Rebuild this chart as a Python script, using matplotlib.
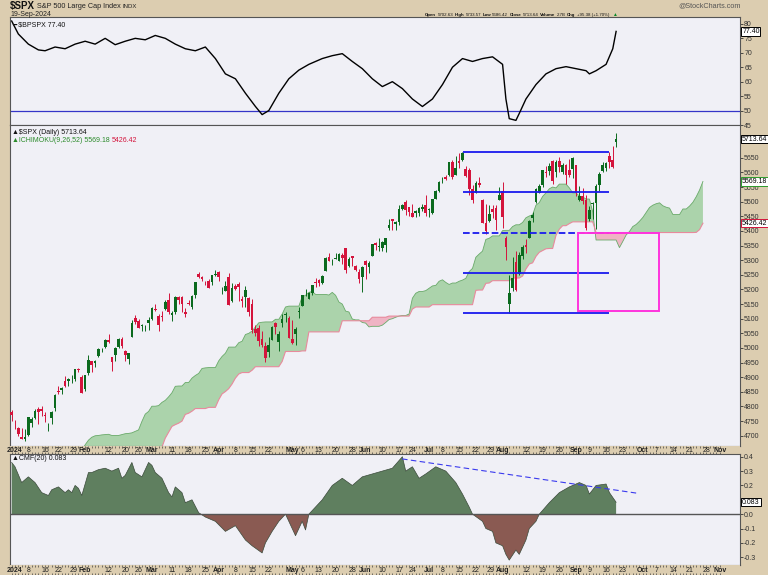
import numpy as np
import pandas as pd
import matplotlib
matplotlib.use('Agg')
import matplotlib.pyplot as plt
from matplotlib.patches import Rectangle
from matplotlib import font_manager

plt.rcParams['font.family'] = ['Liberation Sans', 'DejaVu Sans']

W, H = 768, 575
TAN = '#dccdb0'
PANEL = '#f0f0f6'
GREEN = '#0b6a1e'
RED = '#d4143c'

# narrow face for the crowded quote line, if one is installed
_names = {f.name for f in font_manager.fontManager.ttflist}
NARROW = [n for n in ('Liberation Sans Narrow', 'DejaVu Sans Condensed') if n in _names]
NARROW = NARROW + ['Liberation Sans', 'DejaVu Sans']

# trading calendar, Dec 29 2023 - Nov 1 2024
holidays = pd.to_datetime(['2024-01-01', '2024-01-15', '2024-02-19', '2024-03-29',
                           '2024-05-27', '2024-06-19', '2024-07-04', '2024-09-02'])
days = pd.bdate_range('2023-12-29', '2024-11-01')
days = days[~days.isin(holidays)]

# $SPX daily OHLC, Dec 29 2023 - Sep 19 2024
opens = [
    4782.88,  # Dec 29
    4745.20, 4725.07, 4697.42, 4690.57, 4703.70, 4741.93, 4759.94, 4792.13, 4791.18, 4772.35,
    4739.13, 4760.10, 4796.28, 4853.42, 4856.80, 4888.56, 4886.66, 4888.91, 4892.95, 4925.89,
    4899.19,  # Jan
    4861.11, 4916.06, 4957.19, 4950.16, 4973.05, 4995.16, 5004.17, 5026.83, 4967.94, 4976.44,
    5003.14, 5031.13, 4989.32, 4963.03, 5038.83, 5100.92, 5093.00, 5074.60, 5067.20, 5085.36,  # Feb
    5098.51, 5130.99, 5110.52, 5108.03, 5132.38, 5164.46, 5111.96, 5123.31, 5173.49, 5175.14,
    5123.31, 5154.77, 5139.09, 5181.69, 5253.43, 5242.48, 5219.52, 5228.85, 5226.31, 5248.03,  # Mar
    5257.97, 5204.29, 5194.37, 5244.05, 5158.95, 5211.37, 5217.03, 5167.88, 5172.95, 5171.51,
    5149.67, 5064.59, 5068.97, 5031.52, 5005.44, 4987.33, 5028.85, 5084.86, 5019.88, 5084.65,
    5114.13, 5103.78,  # Apr
    5029.03, 5049.32, 5122.78, 5142.42, 5187.20, 5168.98, 5189.03, 5225.49, 5233.08, 5221.10,
    5263.26, 5310.07, 5303.10, 5305.35, 5298.69, 5319.28, 5340.26, 5281.45, 5315.91, 5278.73,
    5259.77, 5243.21,  # May
    5297.15, 5278.24, 5314.48, 5357.80, 5343.81, 5341.22, 5353.00, 5409.13, 5441.93, 5424.08,
    5431.11, 5476.15, 5499.99, 5480.29, 5459.58, 5460.73, 5460.71, 5473.59, 5488.48,  # Jun
    5471.08, 5461.84, 5507.44, 5537.91, 5572.75, 5584.24, 5591.26, 5635.21, 5590.76, 5638.16,
    5644.09, 5610.07, 5608.56, 5543.37, 5530.36, 5565.30, 5505.84, 5428.70, 5433.67, 5476.55,
    5478.73, 5505.59,  # Jul
    5537.84, 5376.63, 5151.14, 5206.42, 5293.13, 5252.57, 5314.48, 5351.88, 5376.98, 5442.84,
    5500.34, 5530.50, 5557.23, 5602.88, 5603.09, 5637.77, 5602.99, 5639.66, 5602.89, 5624.51,
    5607.30, 5612.74,  # Aug
    5623.89, 5506.68, 5520.89, 5507.33, 5442.07, 5490.51, 5496.42, 5557.48, 5603.34, 5615.21,
    5655.51, 5641.68, 5702.63,  # Sep
]
highs = [
    4788.43,
    4754.33, 4729.29, 4726.78, 4721.49, 4764.54, 4765.47, 4790.80, 4798.50, 4802.40, 4782.34,
    4744.23, 4785.79, 4842.07, 4868.41, 4866.48, 4903.68, 4898.15, 4906.69, 4929.31, 4931.09,
    4906.75,
    4906.97, 4975.29, 4957.19, 4957.77, 4999.89, 5000.40, 5030.06, 5048.39, 4969.95, 5002.52,
    5032.72, 5038.70, 4993.71, 4983.21, 5094.39, 5111.06, 5097.66, 5080.69, 5077.37, 5104.99,
    5140.33, 5149.67, 5114.54, 5127.97, 5165.62, 5189.26, 5124.66, 5179.14, 5179.14, 5176.85,
    5136.86, 5164.20, 5180.31, 5226.19, 5261.10, 5246.09, 5229.09, 5235.16, 5249.26, 5264.85,
    5263.95, 5208.34, 5228.75, 5256.59, 5222.18, 5219.57, 5224.81, 5178.43, 5211.78, 5175.03,
    5168.43, 5079.84, 5077.96, 5056.66, 5019.02, 5038.84, 5076.12, 5089.48, 5057.75, 5114.62,
    5123.49, 5110.83,
    5096.12, 5073.21, 5139.12, 5181.00, 5200.23, 5191.95, 5215.30, 5239.66, 5237.26, 5250.37,
    5311.76, 5325.49, 5305.45, 5325.32, 5324.32, 5323.18, 5341.88, 5311.65, 5315.91, 5282.27,
    5270.26, 5280.33,
    5302.11, 5298.80, 5354.16, 5362.35, 5375.08, 5365.79, 5375.95, 5441.25, 5441.93, 5432.39,
    5488.50, 5490.38, 5505.53, 5480.50, 5490.66, 5472.88, 5483.14, 5490.81, 5523.64,
    5479.55, 5509.69, 5539.27, 5570.33, 5583.11, 5590.75, 5635.39, 5642.45, 5655.56, 5666.94,
    5669.67, 5622.49, 5614.05, 5557.50, 5570.36, 5585.34, 5508.04, 5491.59, 5488.24, 5487.74,
    5489.17, 5551.51,
    5566.16, 5383.89, 5250.89, 5312.34, 5330.64, 5328.03, 5350.72, 5371.20, 5436.50, 5463.22,
    5546.23, 5561.98, 5608.30, 5620.51, 5632.68, 5643.22, 5641.82, 5651.62, 5631.18, 5627.03,
    5646.95, 5651.37,
    5623.89, 5552.74, 5546.30, 5522.47, 5484.20, 5497.91, 5560.41, 5600.71, 5636.27, 5636.05,
    5670.81, 5689.75, 5733.57,
]
lows = [
    4751.99,
    4722.67, 4699.71, 4687.53, 4682.11, 4699.82, 4730.35, 4756.20, 4739.58, 4768.98, 4747.12,
    4714.82, 4740.57, 4785.87, 4844.05, 4844.37, 4865.94, 4869.34, 4881.47, 4887.40, 4916.27,
    4845.15,
    4853.52, 4907.99, 4918.09, 4934.88, 4969.05, 4987.09, 5000.34, 5016.83, 4920.31, 4956.45,
    4999.44, 4999.52, 4955.02, 4946.00, 5038.83, 5081.46, 5068.91, 5057.29, 5058.35, 5061.89,
    5094.16, 5127.18, 5056.82, 5092.22, 5128.21, 5117.50, 5091.14, 5114.48, 5151.88, 5123.30,
    5104.35, 5146.85, 5131.59, 5171.55, 5240.66, 5229.87, 5216.09, 5203.42, 5213.92, 5245.82,
    5229.20, 5184.05, 5194.37, 5146.06, 5157.21, 5197.35, 5160.78, 5138.70, 5138.77, 5107.94,
    5052.47, 5039.83, 5007.25, 5001.89, 4953.56, 4969.40, 5027.96, 5047.02, 4990.58, 5073.14,
    5088.65, 5035.31,
    5013.45, 5011.05, 5101.22, 5142.42, 5178.96, 5165.86, 5180.41, 5209.68, 5211.16, 5217.98,
    5263.26, 5296.19, 5283.59, 5302.40, 5297.87, 5286.01, 5256.93, 5278.39, 5280.89, 5262.70,
    5222.10, 5191.68,
    5234.32, 5257.63, 5314.48, 5335.36, 5331.33, 5331.52, 5327.25, 5402.51, 5403.75, 5403.75,
    5420.40, 5471.32, 5455.56, 5452.03, 5446.96, 5446.56, 5451.87, 5467.54, 5451.12,
    5446.53, 5458.43, 5507.42, 5531.63, 5562.51, 5574.57, 5586.44, 5576.53, 5590.44, 5614.75,
    5639.02, 5584.81, 5522.81, 5497.04, 5529.04, 5550.90, 5426.55, 5390.95, 5430.70, 5444.44,
    5401.86, 5505.59,
    5410.42, 5302.03, 5119.26, 5193.56, 5195.54, 5249.60, 5302.40, 5324.37, 5376.98, 5429.70,
    5497.01, 5528.19, 5550.74, 5585.50, 5591.57, 5560.95, 5585.16, 5602.34, 5593.48, 5560.95,
    5583.71, 5581.79,
    5520.99, 5503.08, 5490.51, 5402.62, 5434.49, 5441.72, 5406.96, 5535.50, 5601.65, 5604.53,
    5614.05, 5615.08, 5686.42,
]
closes = [
    4769.83,
    4742.83, 4704.81, 4688.68, 4697.24, 4763.54, 4756.50, 4783.45, 4780.24, 4783.83, 4765.98,
    4739.21, 4780.94, 4839.81, 4850.43, 4864.60, 4868.55, 4894.16, 4890.97, 4927.93, 4924.97,
    4845.65,
    4906.19, 4958.61, 4942.81, 4954.23, 4995.06, 4997.91, 5026.61, 5021.84, 4953.17, 5000.62,
    5029.73, 5005.57, 4975.51, 4981.80, 5087.03, 5088.80, 5069.53, 5078.18, 5069.76, 5096.27,
    5137.08, 5130.95, 5078.65, 5104.76, 5157.36, 5123.69, 5117.94, 5175.27, 5165.31, 5150.48,
    5117.09, 5149.42, 5178.51, 5224.62, 5241.53, 5234.18, 5218.19, 5203.58, 5248.49, 5254.35,
    5243.77, 5205.81, 5211.49, 5147.21, 5204.34, 5202.39, 5209.91, 5160.64, 5199.06, 5123.41,
    5061.82, 5051.41, 5022.21, 5011.12, 4967.23, 5010.60, 5070.55, 5071.63, 5048.42, 5099.96,
    5116.17, 5035.69,
    5018.39, 5064.20, 5127.79, 5180.74, 5187.70, 5187.67, 5214.08, 5222.68, 5221.42, 5246.68,
    5308.15, 5297.10, 5303.27, 5308.13, 5321.41, 5307.01, 5267.84, 5304.72, 5306.04, 5266.95,
    5235.48, 5277.51,
    5283.40, 5291.34, 5354.03, 5352.96, 5346.99, 5360.79, 5375.32, 5421.03, 5433.74, 5431.60,
    5473.23, 5487.03, 5473.17, 5464.62, 5447.87, 5469.30, 5477.90, 5482.87, 5460.48,
    5475.09, 5509.01, 5537.02, 5567.19, 5572.85, 5576.98, 5633.91, 5584.54, 5615.35, 5631.22,
    5667.20, 5588.27, 5544.59, 5505.00, 5564.41, 5555.74, 5427.13, 5399.22, 5459.10, 5463.54,
    5436.44, 5522.30,
    5446.68, 5346.56, 5186.33, 5240.03, 5199.50, 5319.31, 5344.16, 5344.39, 5434.43, 5455.21,
    5543.22, 5554.25, 5608.25, 5597.12, 5620.85, 5570.64, 5634.61, 5616.84, 5625.80, 5592.18,
    5591.96, 5648.40,
    5528.93, 5520.07, 5503.41, 5408.42, 5471.05, 5495.52, 5554.13, 5595.76, 5626.02, 5633.09,
    5634.58, 5618.26, 5713.64,
]

# Ichimoku cloud edges, one value per trading day starting at index 20 (Jan 30)
cloud_start = 20
span_a = [
    4630, 4650, 4669, 4685, 4695, 4700, 4701, 4703, 4704, 4705,
    4701, 4701, 4701, 4704, 4707, 4708, 4710, 4715, 4720, 4749,
    4774, 4783, 4801, 4801, 4803, 4814, 4821, 4833, 4847, 4869,
    4870, 4870, 4882, 4882, 4897, 4906, 4913, 4930, 4932, 4933,
    4933, 4933, 4956, 4971, 4982, 5003, 5003, 5003, 5018, 5023,
    5046, 5050, 5058, 5072, 5086, 5088, 5089, 5089, 5089, 5098,
    5098, 5116, 5140, 5143, 5143, 5143, 5143, 5175, 5180, 5190,
    5193, 5183, 5183, 5183, 5183, 5181, 5190, 5180, 5157, 5150,
    5126, 5123, 5099, 5096, 5096, 5087, 5085, 5072, 5074, 5074,
    5074, 5078, 5087, 5097, 5100, 5105, 5109, 5111, 5111, 5116,
    5170, 5187, 5193, 5193, 5196, 5204, 5212, 5214, 5228, 5233,
    5224, 5217, 5222, 5222, 5228, 5232, 5238, 5261, 5272, 5310,
    5321, 5331, 5371, 5375, 5383, 5383, 5383, 5401, 5402, 5402,
    5415, 5421, 5421, 5429, 5445, 5451, 5455, 5488, 5497, 5518,
    5530, 5544, 5550, 5547, 5560, 5560, 5560, 5547, 5530, 5530,
    5519, 5516, 5509, 5509, 5465, 5369, 5369, 5369, 5369, 5369,
    5369, 5369, 5343, 5364, 5386, 5398, 5415, 5422, 5433, 5446,
    5463, 5480, 5488, 5493, 5496, 5486, 5481, 5478, 5456, 5456,
    5456, 5475, 5475, 5485, 5498, 5517, 5540, 5569,
]
span_b = [
    4441, 4441, 4441, 4441, 4444, 4449, 4449, 4449, 4449, 4449,
    4449, 4449, 4449, 4449, 4451, 4464, 4485, 4500, 4536, 4591,
    4611, 4615, 4634, 4625, 4630, 4661, 4692, 4712, 4732, 4738,
    4743, 4750, 4773, 4777, 4784, 4793, 4793, 4793, 4793, 4797,
    4797, 4797, 4823, 4843, 4851, 4861, 4877, 4897, 4911, 4916,
    4916, 4916, 4924, 4936, 4936, 4936, 4936, 4936, 4936, 4936,
    4936, 4954, 4988, 4988, 4988, 4988, 4988, 4990, 4990, 5055,
    5055, 5055, 5055, 5055, 5055, 5055, 5055, 5055, 5055, 5093,
    5093, 5093, 5093, 5093, 5093, 5093, 5093, 5093, 5105, 5105,
    5105, 5105, 5105, 5109, 5109, 5109, 5109, 5109, 5109, 5109,
    5133, 5140, 5140, 5140, 5140, 5140, 5148, 5148, 5148, 5148,
    5148, 5148, 5148, 5148, 5148, 5148, 5148, 5148, 5148, 5197,
    5198, 5198, 5221, 5222, 5230, 5230, 5230, 5230, 5230, 5230,
    5239, 5239, 5239, 5246, 5270, 5287, 5291, 5313, 5327, 5333,
    5339, 5340, 5340, 5385, 5406, 5418, 5418, 5425, 5431, 5431,
    5431, 5431, 5431, 5431, 5431, 5394.5, 5394.5, 5394.5, 5394.5, 5394.5,
    5394.5, 5394.5, 5394.5, 5394.5, 5394.5, 5394.5, 5394.5, 5394.5, 5394.5, 5394.5,
    5394.5, 5394.5, 5394.5, 5394.5, 5394.5, 5394.5, 5394.5, 5394.5, 5394.5, 5394.5,
    5394.5, 5394.5, 5394.5, 5394.5, 5394.5, 5395, 5404.5, 5426.4,
]

# drawn range lines and box
range_levels = [5669.67, 5532.07, 5394.47, 5256.86, 5119.26]
range_start, range_end = 135.2, 178.9
box_x = (169.6, 193.9)
box_y = (5128, 5394)

# $BPSPX (bullish percent index)
bp_idx = [0, 2, 5, 8, 10, 13, 16, 19, 22, 25, 28, 31, 34, 37, 40, 43, 46, 49, 52, 55, 58, 61,
          64, 67, 70, 73, 75, 77, 80, 83, 86, 89, 93, 96, 99, 102, 105, 108, 111, 114, 117,
          120, 123, 126, 129, 132, 135, 138, 141, 144, 147, 148, 149, 151, 152, 154, 157, 160,
          163, 166, 169, 172, 173, 175, 178, 180, 181]
bp_val = [81, 76.5, 73, 71, 70.7, 72, 71.4, 73, 74, 73, 75, 72.8, 74, 75, 74.5, 76, 75, 73,
          71.4, 70.7, 72, 68, 62.7, 61, 56, 51.4, 48.6, 50, 56, 61, 64, 66, 68, 69, 69.7, 67,
          64.5, 61, 58.3, 60, 57.6, 54, 51.4, 54, 59, 65, 68, 67, 68, 68.6, 66, 54, 47.2, 46.6,
          49, 54, 59, 62.7, 64.5, 65.2, 64.5, 63.8, 62.7, 63.8, 66, 71.4, 77.4]

# CMF(20)
cmf_idx = [0, 1, 3, 5, 7, 9, 11, 12, 14, 16, 17, 18, 19, 20, 21, 23, 24, 26, 28, 30, 32, 33,
           34, 36, 37, 39, 41, 42, 43, 45, 47, 48, 49, 51, 52, 54, 56, 58, 61, 64, 67, 70, 72,
           75, 76, 78, 80, 82, 84, 85, 87, 88, 89, 93, 96, 99, 102, 105, 108, 111, 114, 117,
           118, 120, 122, 124, 127, 130, 133, 135, 137, 138, 141, 142, 144, 145, 147, 148, 149,
           151, 152, 154, 155, 157, 158, 161, 164, 167, 170, 172, 173, 175, 178, 179, 181]
cmf_val = [0.36, 0.33, 0.22, 0.26, 0.22, 0.15, 0.13, 0.17, 0.19, 0.15, 0.17, 0.15, 0.20, 0.18,
           0.13, 0.29, 0.29, 0.31, 0.32, 0.30, 0.32, 0.25, 0.27, 0.36, 0.29, 0.26, 0.36, 0.34,
           0.29, 0.25, 0.15, 0.12, 0.19, 0.15, 0.08, 0.10, 0.01, -0.02, -0.05, -0.12, -0.08,
           -0.18, -0.22, -0.27, -0.20, -0.12, -0.05, 0.0, -0.10, -0.15, -0.05, -0.11, 0.0, 0.10,
           0.20, 0.25, 0.20, 0.26, 0.28, 0.30, 0.32, 0.40, 0.30, 0.33, 0.25, 0.28, 0.33, 0.30,
           0.22, 0.14, 0.05, 0.0, -0.05, -0.10, -0.12, -0.20, -0.22, -0.28, -0.32, -0.25, -0.28,
           -0.18, -0.10, -0.05, 0.0, 0.08, 0.15, 0.19, 0.22, 0.20, 0.14, 0.20, 0.21, 0.15, 0.083]
cmf_trend = ([116.9, 187.0], [0.385, 0.147])

# tick labels for the date strips
month_first = [i for i in range(1, len(days)) if days[i].month != days[i - 1].month]
week_first = [i for i in range(1, len(days))
              if days[i].isocalendar()[1] != days[i - 1].isocalendar()[1]]
date_labels = []
for i in month_first:
    date_labels.append((i, '2024' if days[i].month == 1 else days[i].strftime('%b'), True, 'center'))
for i in week_first:
    gap_next = min([m - i for m in month_first if m >= i] or [99])
    if min(abs(i - m) for m in month_first) > 2:
        date_labels.append((i, str(days[i].day), False, 'right' if gap_next <= 3 else 'center'))

XLIM = (-0.5, 218.1)

fig = plt.figure(figsize=(W / 100, H / 100), dpi=100, facecolor=TAN)
renderer = fig.canvas.get_renderer()


def px_axes(x0, y0, x1, y1):
    return fig.add_axes([x0 / W, 1 - y1 / H, (x1 - x0) / W, (y1 - y0) / H])


def chain(x_px, y_px, parts, size, gap=2.5, family=None):
    # lay out text pieces one after another, left to right, in pixel coords
    x = x_px
    for t, bold, color in parts:
        kw = {'family': family} if family else {}
        txt = fig.text(x / W, 1 - y_px / H, t, fontsize=size, va='center', color=color,
                       fontweight='bold' if bold else 'normal', **kw)
        x += txt.get_window_extent(renderer=renderer).width + gap
    return x


def chain_fit(x0, x1, y_px, parts, size, gap, family=None):
    # same as chain, but font size scaled so the run spans x0..x1
    kw = {'family': family} if family else {}
    total = 0
    for t, bold, color in parts:
        tmp = fig.text(0, 0, t, fontsize=size, fontweight='bold' if bold else 'normal', **kw)
        total += tmp.get_window_extent(renderer=renderer).width
        tmp.remove()
    scale = (x1 - x0 - gap * (len(parts) - 1)) / total
    return chain(x0, y_px, parts, size * scale, gap, family)


def style_panel(ax, ylim, yticks, labels):
    ax.set_facecolor(PANEL)
    ax.set_xlim(XLIM)
    ax.set_ylim(ylim)
    ax.set_xticks([])
    ax.yaxis.tick_right()
    ax.set_yticks(yticks)
    ax.set_yticklabels(labels)
    ax.tick_params(axis='y', length=2, width=0.6, pad=1, labelsize=5, colors='#333')
    for s in ax.spines.values():
        s.set_color('#555')
        s.set_linewidth(0.8)


def tag(ax, y, text, ec):
    ax.text(1.003, y, text, transform=ax.get_yaxis_transform(), fontsize=5, va='center',
            ha='left', color='black', zorder=10, clip_on=False,
            bbox=dict(boxstyle='square,pad=0.1', fc='white', ec=ec, lw=0.7))


def style_strip(ax):
    ax.set_facecolor(TAN)
    ax.set_xlim(XLIM)
    ax.set_ylim(0, 1)
    ax.set_yticks([])
    ax.set_xticks(np.arange(len(days)))
    ax.tick_params(axis='x', direction='in', length=1.3, width=0.5, top=True, bottom=True,
                   labelbottom=False, colors='#444')
    for s in ax.spines.values():
        s.set_visible(False)
    for i, lab, bold, ha in date_labels:
        ax.text(i + (0.6 if ha == 'right' else 0), 0.45, lab, fontsize=5, ha=ha, va='center',
                color='#222', fontweight='bold' if bold else 'normal')


ax_bp = px_axes(10, 17, 740, 125)
ax_px = px_axes(10, 125, 740, 446)
ax_s1 = px_axes(10, 446, 740, 454)
ax_cmf = px_axes(10, 454, 740, 565)
ax_s2 = px_axes(10, 565, 740, 575)

# --- header ---
x_end = chain(10, 6.5, [('$SPX', True, '#111')], 7, gap=2)
x_end = chain(x_end, 6.5, [('S&P 500 Large Cap Index', False, '#222')], 5.2, gap=2)
chain(x_end, 6.5, [('INDX', False, '#222')], 4.3)
fig.text(10 / W, 1 - 14.5 / H, '19-Sep-2024', fontsize=5, va='center', color='#222')
fig.text(741 / W, 1 - 6 / H, '@StockCharts.com', fontsize=5.2, va='center', ha='right',
         color='#555')
hdr = [('Open', True), ('5702.63', False), ('High', True), ('5733.57', False),
       ('Low', True), ('5686.42', False), ('Close', True), ('5713.64', False),
       ('Volume', True), ('2.7B', False), ('Chg', True), ('+95.38 (+1.70%)', False)]
x_end = chain_fit(425, 614, 15, [(t, b, '#111') for t, b in hdr], 5, gap=1.4, family=NARROW)
fig.text((x_end + 1) / W, 1 - 15 / H, '▲', fontsize=3.5, va='center', color='#0a8a2a')

# --- $BPSPX panel ---
style_panel(ax_bp, (45.0, 82.39), [45, 50, 55, 60, 65, 70, 75, 80],
            ['45', '50', '55', '60', '65', '70', '75', '80'])
ax_bp.axhline(50, color='#3535c8', lw=0.9)
ax_bp.plot(bp_idx, bp_val, color='black', lw=1.0)
ax_bp.text(0.003, 0.93, '━ $BPSPX 77.40', transform=ax_bp.transAxes, fontsize=5,
           va='center', color='#111')
tag(ax_bp, 77.4, '77.40', 'black')

# --- price panel ---
ticks = list(range(4700, 5701, 50))
style_panel(ax_px, (4665, 5762), ticks, ['' if t == 5700 else str(t) for t in ticks])
n = min(len(span_a), len(span_b))
ci = cloud_start + np.arange(n)
sa = np.array(span_a[:n], dtype=float)
sb = np.array(span_b[:n], dtype=float)
ax_px.fill_between(ci, sa, sb, where=sa >= sb, interpolate=True, color='#abd3ab', lw=0, zorder=1)
ax_px.fill_between(ci, sa, sb, where=sa < sb, interpolate=True, color='#efb4c4', lw=0, zorder=1)
ax_px.plot(ci, sa, color='#6aaa6a', lw=0.6, zorder=2)
ax_px.plot(ci, sb, color='#e88a9c', lw=0.8, zorder=2)

x = np.arange(len(closes))
o, h, l, c = (np.array(v) for v in (opens, highs, lows, closes))
col = np.where(c >= o, GREEN, RED)
ax_px.vlines(x, l, h, colors=col, lw=0.7, zorder=3)
ax_px.bar(x, np.maximum(np.abs(c - o), 2.0), bottom=np.minimum(o, c), width=0.8, color=col,
          lw=0, zorder=4)

for k, lev in enumerate(range_levels):
    ax_px.hlines(lev, range_start, range_end, color='#1a1aee', lw=1.3,
                 linestyles='--' if k == 2 else '-', zorder=5)
ax_px.add_patch(Rectangle((box_x[0], box_y[0]), box_x[1] - box_x[0], box_y[1] - box_y[0],
                          fill=False, ec='#ff33dd', lw=1.4, zorder=5))

chain(12, 133, [('▲$SPX (Daily) 5713.64', False, '#111')], 5)
x_end = chain(12, 140, [('▲ICHIMOKU(9,26,52) 5569.18', False, '#2a8a2a')], 5, gap=2)
chain(x_end, 140, [('5426.42', False, '#d4143c')], 5)
tag(ax_px, 5713.64, '5713.64', 'black')
tag(ax_px, 5569.18, '5569.18', '#2a9a2a')
tag(ax_px, 5426.42, '5426.42', '#d4143c')

# --- CMF panel ---
style_panel(ax_cmf, (-0.354, 0.419), [-0.3, -0.2, -0.1, 0.0, 0.1, 0.2, 0.3, 0.4],
            ['-0.3', '-0.2', '-0.1', '0.0', '', '0.2', '0.3', '0.4'])
cx = np.array(cmf_idx, dtype=float)
cv = np.array(cmf_val)
ax_cmf.fill_between(cx, cv, 0, where=cv >= 0, interpolate=True, color='#5f7f5f', lw=0)
ax_cmf.fill_between(cx, cv, 0, where=cv < 0, interpolate=True, color='#8a5a52', lw=0)
ax_cmf.plot(cx, cv, color='#3a4a3a', lw=0.5)
ax_cmf.axhline(0, color='#555', lw=1.0)
ax_cmf.plot(cmf_trend[0], cmf_trend[1], color='#3a3aee', lw=0.8, ls=(0, (5, 3)))
chain(12, 458.5, [('▲CMF(20) 0.083', False, '#111')], 5)
tag(ax_cmf, 0.083, '0.083', 'black')

style_strip(ax_s1)
style_strip(ax_s2)

fig.savefig('out.png', dpi=100, facecolor=TAN)
